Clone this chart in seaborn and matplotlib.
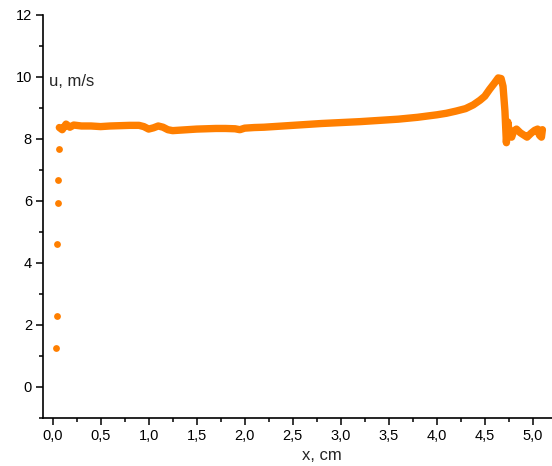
import matplotlib
matplotlib.use("Agg")
import matplotlib.pyplot as plt
import seaborn as sns
import pandas as pd
from matplotlib.ticker import MultipleLocator, FuncFormatter

# Isolated start-up points
x_start = [0.040, 0.045, 0.050, 0.055, 0.060, 0.065]
u_start = [1.25, 2.30, 4.62, 5.92, 6.67, 7.67]

# Main velocity profile
x_main = [0.07, 0.10, 0.14, 0.18, 0.22, 0.30, 0.40, 0.50, 0.60, 0.70, 0.80, 0.90,
          0.95, 1.00, 1.05, 1.10, 1.15, 1.20, 1.25, 1.30, 1.40, 1.50, 1.60, 1.70,
          1.80, 1.90, 1.95, 2.00, 2.10, 2.20, 2.40, 2.60, 2.80, 3.00, 3.20, 3.40,
          3.60, 3.80, 4.00, 4.10, 4.20, 4.30, 4.38, 4.45, 4.50, 4.55, 4.60, 4.64,
          4.67, 4.69, 4.71, 4.725, 4.74, 4.76, 4.78, 4.80, 4.83, 4.87, 4.91, 4.94,
          4.98, 5.02, 5.05, 5.07, 5.09, 5.10]
u_main = [8.37, 8.30, 8.48, 8.38, 8.45, 8.42, 8.42, 8.40, 8.42, 8.43, 8.44, 8.44,
          8.40, 8.32, 8.36, 8.42, 8.38, 8.30, 8.27, 8.28, 8.30, 8.32, 8.33, 8.34,
          8.34, 8.33, 8.30, 8.35, 8.37, 8.38, 8.42, 8.46, 8.50, 8.53, 8.56, 8.60,
          8.64, 8.70, 8.78, 8.83, 8.90, 8.98, 9.10, 9.25, 9.38, 9.60, 9.80, 9.97,
          9.95, 9.70, 8.90, 7.88, 8.55, 8.10, 8.06, 8.25, 8.32, 8.20, 8.12, 8.06,
          8.18, 8.28, 8.32, 8.12, 8.06, 8.30]

COLOR = "#FF7F00"

sns.set_theme(style="ticks")
plt.rcParams["font.family"] = ["Liberation Sans", "DejaVu Sans"]

fig = plt.figure(figsize=(5.52, 4.66), dpi=100)
ax = fig.add_axes([43 / 552, 1 - 418 / 466, (552 - 43) / 552, (418 - 15) / 466])

df_main = pd.DataFrame({"x": x_main, "u": u_main})
df_start = pd.DataFrame({"x": x_start, "u": u_start})

sns.lineplot(data=df_main, x="x", y="u", sort=False, color=COLOR, lw=5.3,
             solid_capstyle="round", solid_joinstyle="round", ax=ax)
sns.scatterplot(data=df_start, x="x", y="u", color=COLOR, s=24, linewidth=0, ax=ax)

ax.set_xlim(-0.1, 5.2)
ax.set_ylim(-1, 12)
ax.xaxis.set_major_locator(MultipleLocator(0.5))
ax.xaxis.set_minor_locator(MultipleLocator(0.25))
ax.yaxis.set_major_locator(MultipleLocator(2))
ax.yaxis.set_minor_locator(MultipleLocator(1))
ax.xaxis.set_major_formatter(FuncFormatter(lambda v, p: f"{v:.1f}".replace(".", ",")))
ax.yaxis.set_major_formatter(FuncFormatter(lambda v, p: f"{v:.0f}"))

for sp in ["top", "right"]:
    ax.spines[sp].set_visible(False)
for sp in ["left", "bottom"]:
    ax.spines[sp].set_color("black")
    ax.spines[sp].set_linewidth(1.2)

ax.tick_params(which="major", direction="out", length=5, width=1.1, colors="black",
               labelsize=10.5, pad=3)
ax.tick_params(which="minor", direction="out", length=3, width=1.1, colors="black")

ax.set_xlabel("x, cm", fontsize=12, labelpad=3)
ax.xaxis.set_label_coords((322 - 43) / 509, -0.075)
ax.set_ylabel("")
ax.text(0.012, 0.834, "u, m/s", transform=ax.transAxes, fontsize=12,
        ha="left", va="center")

fig.savefig("out.png", dpi=100)
